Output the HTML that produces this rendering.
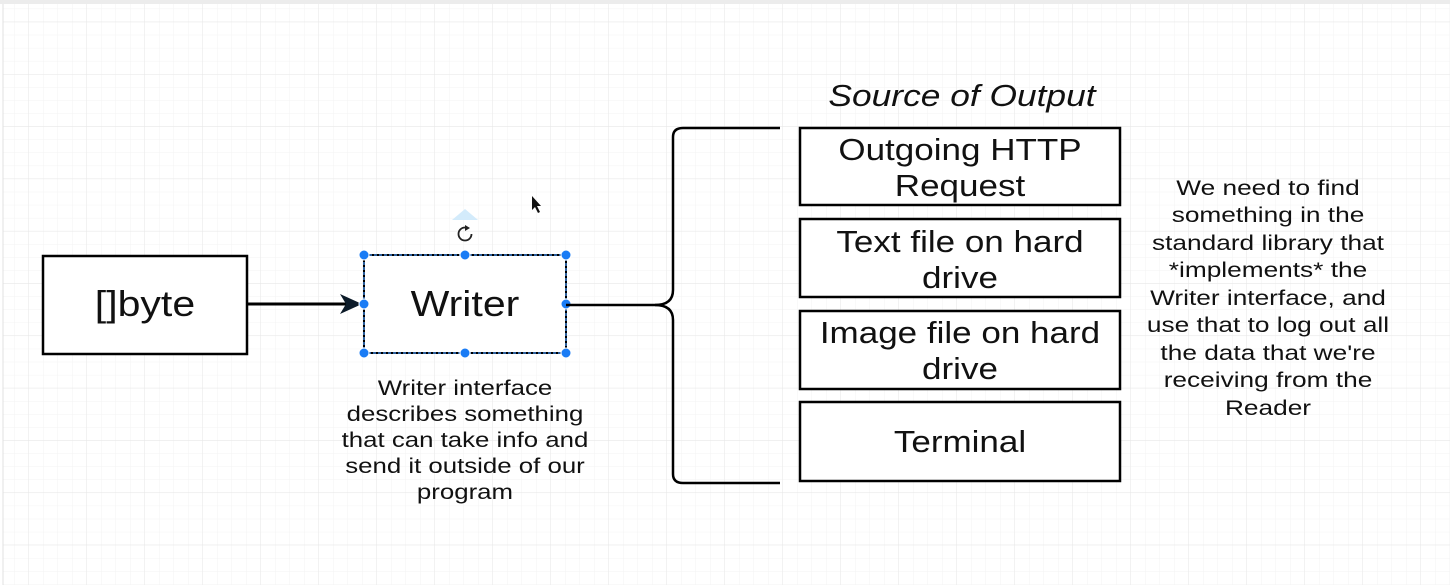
<!DOCTYPE html>
<html><head><meta charset="utf-8"><style>
html,body{margin:0;padding:0;background:#fff;}
svg{display:block;}
text{font-family:"Liberation Sans",sans-serif;fill:#111;}
</style></head><body>
<svg width="1450" height="585" viewBox="0 0 1450 585" xmlns="http://www.w3.org/2000/svg">
<defs>
<pattern id="minor" x="28.5" y="21.7" width="14.5" height="13.08" patternUnits="userSpaceOnUse">
<path d="M0 0V13.08M0 0H14.5" stroke="#f3f3f3" stroke-width="1" fill="none"/>
</pattern>
<pattern id="major" x="28.5" y="21.7" width="58" height="52.3" patternUnits="userSpaceOnUse">
<path d="M0 0V52.3M0 0H58" stroke="#e6e6e6" stroke-width="1" fill="none"/>
</pattern>
</defs>
<rect width="1450" height="585" fill="#fff"/>
<rect x="3" y="4" width="1447" height="581" fill="url(#minor)"/>
<rect x="3" y="4" width="1447" height="581" fill="url(#major)"/>
<rect x="0" y="0" width="1450" height="4" fill="#ececec"/>
<line x1="3" y1="4" x2="3" y2="585" stroke="#e0e0e0"/>

<!-- []byte -->
<rect x="43" y="256" width="204" height="98" fill="#fff" stroke="#000" stroke-width="2.5"/>
<g transform="translate(145 0) scale(1.14 1) translate(-145 0)">
<text x="145" y="316" font-size="36" text-anchor="middle">[]byte</text>
</g>
<!-- arrow -->
<line x1="247" y1="304" x2="350" y2="304" stroke="#000" stroke-width="3"/>
<path d="M340 294 L362 304 L340 314 L346 304 Z" fill="#0b1a28"/>

<!-- Writer -->
<rect x="364" y="255" width="202" height="98" fill="#fff" stroke="#000" stroke-width="2"/>
<rect x="364" y="255" width="202" height="98" fill="none" stroke="#3a7fcf" stroke-width="1.5" stroke-dasharray="3 2"/>
<g transform="translate(465 0) scale(1.14 1) translate(-465 0)">
<text x="465" y="316" font-size="36" text-anchor="middle">Writer</text>
</g>
<g fill="#1a7cf5" stroke="#fff" stroke-width="1">
<circle cx="364" cy="255" r="5"/><circle cx="465" cy="255" r="5"/><circle cx="566" cy="255" r="5"/>
<circle cx="364" cy="304" r="5"/><circle cx="566" cy="304" r="5"/>
<circle cx="364" cy="353" r="5"/><circle cx="465" cy="353" r="5"/><circle cx="566" cy="353" r="5"/>
</g>
<path d="M452 220 L465 209 L478 220 Z" fill="#d3ebfb"/>
<circle cx="465" cy="234" r="6.5" fill="none" stroke="#222" stroke-width="1.8" stroke-dasharray="33 8"/>
<path d="M465 225 L470 228 L465 231 Z" fill="#222"/>
<!-- cursor -->
<path d="M532 196 L532 210 L535 207 L538 213 L540 212 L537 206 L541 206 Z" fill="#111"/>

<!-- brace -->
<path d="M566 305 H655 Q673 305 673 290 V137 Q673 128 683 128 H780" fill="none" stroke="#000" stroke-width="2.5"/>
<path d="M655 305 Q673 305 673 320 V474 Q673 483 683 483 H780" fill="none" stroke="#000" stroke-width="2.5"/>

<g transform="translate(962 0) scale(1.14 1) translate(-962 0)">
<text x="962" y="106" font-size="31" font-style="italic" text-anchor="middle">Source of Output</text>
</g>
<g fill="#fff" stroke="#000" stroke-width="2.5">
<rect x="800" y="128" width="320" height="77"/>
<rect x="800" y="219" width="320" height="78"/>
<rect x="800" y="311" width="320" height="78"/>
<rect x="800" y="402" width="320" height="79"/>
</g>
<g font-size="31" text-anchor="middle" transform="translate(960 0) scale(1.13 1) translate(-960 0)">
<text x="960" y="160">Outgoing HTTP</text>
<text x="960" y="196">Request</text>
<text x="960" y="252">Text file on hard</text>
<text x="960" y="288">drive</text>
<text x="960" y="343">Image file on hard</text>
<text x="960" y="379">drive</text>
<text x="960" y="452">Terminal</text>
</g>

<g font-size="21" text-anchor="middle" transform="translate(465 0) scale(1.23 1) translate(-465 0)">
<text x="465" y="395">Writer interface</text>
<text x="465" y="421">describes something</text>
<text x="465" y="447">that can take info and</text>
<text x="465" y="473">send it outside of our</text>
<text x="465" y="499">program</text>
</g>
<g font-size="21" text-anchor="middle" transform="translate(1268 0) scale(1.25 1) translate(-1268 0)">
<text x="1268" y="195">We need to find</text>
<text x="1268" y="222">something in the</text>
<text x="1268" y="250">standard library that</text>
<text x="1268" y="277">*implements* the</text>
<text x="1268" y="305">Writer interface, and</text>
<text x="1268" y="332">use that to log out all</text>
<text x="1268" y="360">the data that we're</text>
<text x="1268" y="387">receiving from the</text>
<text x="1268" y="415">Reader</text>
</g>
</svg>
</body></html>
